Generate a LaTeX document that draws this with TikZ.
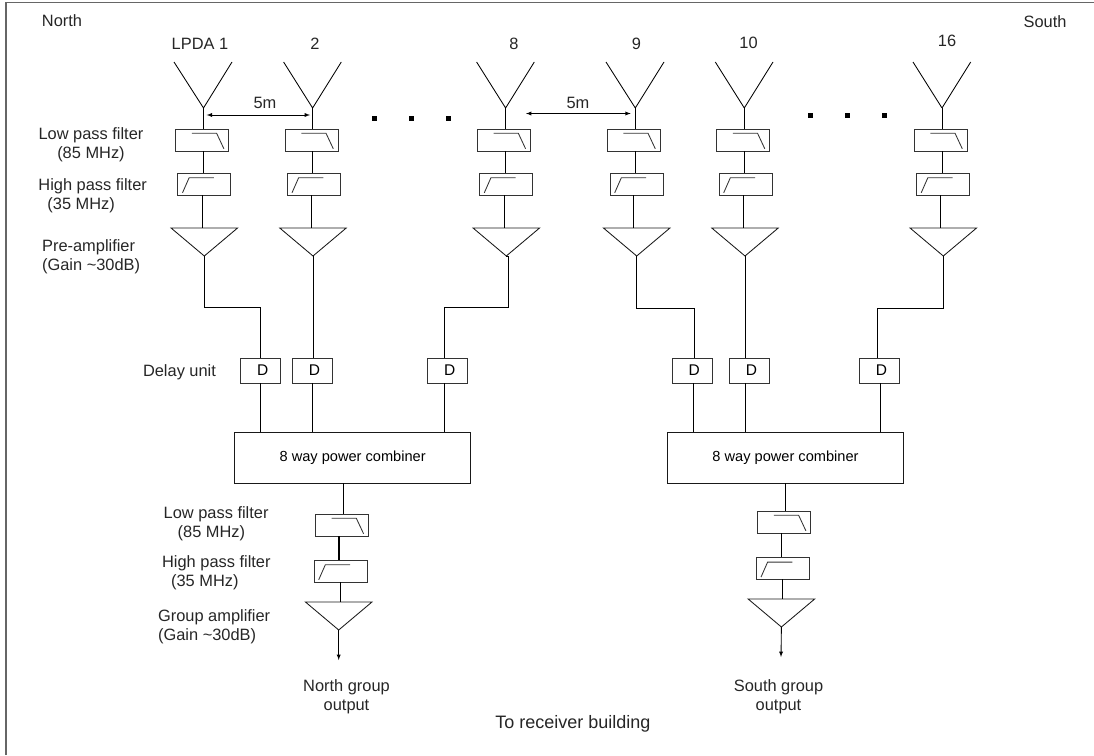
\documentclass[tikz,border=0pt]{standalone}
\usepackage{fontspec}
\setmainfont{Liberation Sans}
\usetikzlibrary{shapes.geometric}
\begin{document}
\begin{tikzpicture}[x=1pt,y=-1pt,
  line width=0.85pt,
  font=\fontsize{16.4}{19}\selectfont,
  txt/.style={text=black!85,inner sep=0,align=center},
  txtl/.style={text=black!85,inner sep=0,align=left,anchor=west},
  lpbox/.style={draw=black!80,minimum width=53,minimum height=22,inner sep=0,outer sep=0,
    path picture={\draw ([shift={(-10.2,-6.8)}]path picture bounding box.center)
      -- ++(24.7,0) -- ++(7.3,15.6);}},
  hpbox/.style={draw=black!80,minimum width=53,minimum height=22,inner sep=0,outer sep=0,
    path picture={\draw ([shift={(-21.8,8.8)}]path picture bounding box.center)
      -- ++(6.6,-15) -- ++(24.7,0);}},
  dlybox/.style={draw=black!80,minimum width=40.5,minimum height=25,inner sep=0,outer sep=0,
    font=\fontsize{15.5}{17}\selectfont},
  combbox/.style={draw=black!90,minimum width=236,minimum height=51,inner sep=0,outer sep=0,
    font=\fontsize{14.6}{17}\selectfont},
  ampl/.style={draw=black!90,isosceles triangle,isosceles triangle stretches,
    shape border rotate=-90,minimum width=66.5,minimum height=28,inner sep=0,outer sep=0,
    anchor=apex},
  dotmark/.style={fill=black,minimum size=5,inner sep=0,outer sep=0}]

\useasboundingbox (0,0) rectangle (1094,755);

% Frame
\coordinate (fa) at (6,755);
\coordinate (fb) at (6,2.5);
\coordinate (fc) at (1094,2.5);
\draw[black!60,line width=1.3pt] (fa)--(fb)--(fc);

% Side names
\node[txt] (north) at (62,21) {North};
\node[txt] (south) at (1045,22) {South};

%--------------------------------------------------
% Labels on the left
%--------------------------------------------------
\node[txt] (lplabel) at (91,144.7) {Low pass filter\\(85 MHz)};
\node[txtl] (hplabel) at (38,195.8) {High pass filter\\\hspace*{9pt}(35 MHz)};
\node[txtl] (amplabel) at (41.7,256.5) {Pre-amplifier\\(Gain \textasciitilde30dB)};
\node[txt] (dlylabel) at (179.5,372) {Delay unit};

%--------------------------------------------------
% Channel 1
%--------------------------------------------------
\node[txt] (name1) at (200,44) {LPDA 1};
\coordinate (ant1) at (203.5,108);
\draw (ant1)--++(-29.5,-46) (ant1)--++(28.5,-46);
\node[lpbox] (lp1) at (202.1,140) {};
\node[hpbox] (hp1) at (204.3,184) {};
\node[ampl] (amp1) at (204.3,256) {};
\node[dlybox] (dly1) at (260.6,370.5) {\hspace{4pt}D};
\draw (ant1)--(ant1 |- lp1.north);
\draw (ant1 |- lp1.south)--(ant1 |- hp1.north);
\draw ([xshift=-1.5pt]amp1.lower side |- hp1.south)--([xshift=-1.5pt]amp1.lower side);
\draw (amp1.apex)--++(0,51)-|(dly1.north);

%--------------------------------------------------
% Channel 2
%--------------------------------------------------
\node[txt] (name2) at (315,44) {2};
\coordinate (ant2) at (312.6,108);
\draw (ant2)--++(-29,-46) (ant2)--++(28.7,-46);
\node[lpbox] (lp2) at (311.5,140) {};
\node[hpbox] (hp2) at (313.8,184) {};
\node[ampl] (amp2) at (313,256) {};
\node[dlybox] (dly2) at (312.5,370.5) {\hspace{4pt}D};
\draw (ant2)--(ant2 |- lp2.north);
\draw (ant2 |- lp2.south)--(ant2 |- hp2.north);
\draw ([xshift=-1.5pt]amp2.lower side |- hp2.south)--([xshift=-1.5pt]amp2.lower side);
\draw (amp2.apex)--(dly2.north -| amp2.apex);

%--------------------------------------------------
% Channel 8
%--------------------------------------------------
\node[txt] (name8) at (514,44) {8};
\coordinate (ant8) at (505.6,108);
\draw (ant8)--++(-29,-46) (ant8)--++(28.7,-46);
\node[lpbox] (lp8) at (503.8,140) {};
\node[hpbox] (hp8) at (506.1,184) {};
\node[ampl] (amp8) at (506.3,256) {};
\node[dlybox] (dly8) at (447.6,370.5) {\hspace{4pt}D};
\draw (ant8)--(ant8 |- lp8.north);
\draw (ant8 |- lp8.south)--(ant8 |- hp8.north);
\draw ([xshift=-2pt]amp8.lower side |- hp8.south)--([xshift=-2pt]amp8.lower side);
\draw (amp8.apex)--++(2.5,0)--++(0,51.5)-|([xshift=-3.3pt]dly8.north);

%--------------------------------------------------
% Channel 9
%--------------------------------------------------
\node[txt] (name9) at (636.5,44) {9};
\coordinate (ant9) at (635.3,108);
\draw (ant9)--++(-29.3,-46) (ant9)--++(28.7,-46);
\node[lpbox] (lp9) at (633.5,140) {};
\node[hpbox] (hp9) at (636.5,184) {};
\node[ampl] (amp9) at (636.7,256) {};
\node[dlybox] (dly9) at (692.3,370.5) {\hspace{4pt}D};
\draw (ant9)--(ant9 |- lp9.north);
\draw (ant9 |- lp9.south)--(ant9 |- hp9.north);
\draw ([xshift=-3pt]amp9.lower side |- hp9.south)--([xshift=-3pt]amp9.lower side);
\draw (amp9.apex)--++(0,52)-|([xshift=1.7pt]dly9.north);

%--------------------------------------------------
% Channel 10
%--------------------------------------------------
\node[txt] (name10) at (748.5,42.5) {10};
\coordinate (ant10) at (744.3,108);
\draw (ant10)--++(-29,-46) (ant10)--++(28.7,-46);
\node[lpbox] (lp10) at (743,140) {};
\node[hpbox] (hp10) at (745.5,184) {};
\node[ampl] (amp10) at (745,256) {};
\node[dlybox] (dly10) at (749.5,370.5) {\hspace{4pt}D};
\draw (ant10)--(ant10 |- lp10.north);
\draw (ant10 |- lp10.south)--(ant10 |- hp10.north);
\draw ([xshift=-2pt]amp10.lower side |- hp10.south)--([xshift=-2pt]amp10.lower side);
\draw (amp10.apex)--(dly10.north -| amp10.apex);

%--------------------------------------------------
% Channel 16
%--------------------------------------------------
\node[txt] (name16) at (947,41) {16};
\coordinate (ant16) at (942,108);
\draw (ant16)--++(-29,-46) (ant16)--++(28.7,-46);
\node[lpbox] (lp16) at (940.5,140) {};
\node[hpbox] (hp16) at (943,184) {};
\node[ampl] (amp16) at (943.3,256) {};
\node[dlybox] (dly16) at (879.5,370.5) {\hspace{4pt}D};
\draw (ant16)--(ant16 |- lp16.north);
\draw (ant16 |- lp16.south)--(ant16 |- hp16.north);
\draw ([xshift=-2.5pt]amp16.lower side |- hp16.south)--([xshift=-2.5pt]amp16.lower side);
\draw (amp16.apex)--++(0,52)-|([xshift=-2.2pt]dly16.north);

%--------------------------------------------------
% Spacing marks
%--------------------------------------------------
\node[txt] (gapa) at (265,103) {5m};
\node[txt] (gapb) at (578,103) {5m};
\coordinate (gapal) at (206.7,115);
\coordinate (gapar) at (310,115);
\coordinate (gapbl) at (526,113.5);
\coordinate (gapbr) at (630.7,113.5);
\draw[latex-latex] (gapal)--(gapar);
\draw[latex-latex] (gapbl)--(gapbr);

\node[dotmark] (dota) at (374.5,118) {};
\node[dotmark] (dotb) at (411,118) {};
\node[dotmark] (dotc) at (448,118) {};
\node[dotmark] (dotd) at (810,115.5) {};
\node[dotmark] (dote) at (847,115.5) {};
\node[dotmark] (dotf) at (884,115.5) {};

%--------------------------------------------------
% North combiner
%--------------------------------------------------
\node[combbox] (combn) at (352.7,457.5) {8 way power combiner};
\draw (dly1.south)--(dly1.south |- combn.north);
\draw (dly2.south)--(dly2.south |- combn.north);
\draw ([xshift=-3.3pt]dly8.south)--([xshift=-3.3pt]dly8.south |- combn.north);

\node[lpbox] (lpn) at (341.8,525) {};
\node[hpbox] (hpn) at (340.5,571) {};
\node[ampl] (ampn) at (338.7,630) {};
\draw ([xshift=1.2pt]lpn.north |- combn.south)--([xshift=1.2pt]lpn.north);
\draw[line width=1.4pt] ([xshift=-1.5pt]hpn.north |- lpn.south)--([xshift=-1.5pt]hpn.north);
\draw ([xshift=2pt]ampn.lower side |- hpn.south)--([xshift=2pt]ampn.lower side);
\coordinate (outn) at (338.7,660);
\draw[-latex] (ampn.apex)--(outn);

\node[txtl] (lpnlabel) at (163.3,523.3) {Low pass filter\\\hspace*{14pt}(85 MHz)};
\node[txtl] (hpnlabel) at (161.7,572.5) {High pass filter\\\hspace*{9pt}(35 MHz)};
\node[txtl] (ampnlabel) at (157.7,626.6) {Group amplifier\\(Gain \textasciitilde30dB)};
\node[txt] (outnlabel) at (346.5,696.5) {North group\\output};

%--------------------------------------------------
% South combiner
%--------------------------------------------------
\node[combbox] (combs) at (785.5,457.5) {8 way power combiner};
\draw ([xshift=.7pt]dly9.south)--([xshift=.7pt]dly9.south |- combs.north);
\draw (dly10.south -| amp10.apex)--(amp10.apex |- combs.north);
\draw ([xshift=.8pt]dly16.south)--([xshift=.8pt]dly16.south |- combs.north);

\node[lpbox] (lps) at (784.1,522) {};
\node[hpbox] (hps) at (782.8,568.3) {};
\node[ampl] (amps) at (781.4,627) {};
\draw ([xshift=1.6pt]lps.north |- combs.south)--([xshift=1.6pt]lps.north);
\draw ([xshift=-1pt]hps.north |- lps.south)--([xshift=-1pt]hps.north);
\draw ([xshift=1.5pt]amps.lower side |- hps.south)--([xshift=1.5pt]amps.lower side);
\coordinate (outs) at (781,657);
\draw[-latex] (amps.apex)--(outs);

\node[txt] (outslabel) at (778.5,696.5) {South group\\output};

% Bottom caption
\node[txt,font=\fontsize{18}{21}\selectfont] (caption) at (573,724) {To receiver building};

\end{tikzpicture}
\end{document}
